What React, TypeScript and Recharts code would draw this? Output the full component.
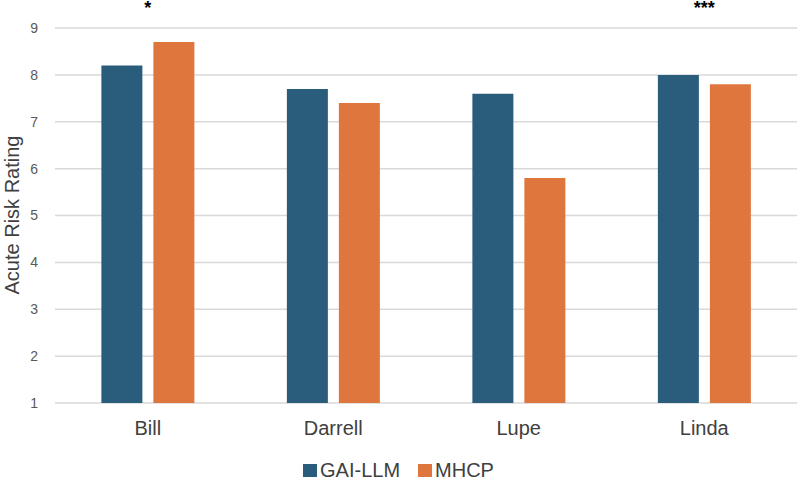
import { BarChart, Bar, XAxis, YAxis, CartesianGrid, Legend } from "recharts"

const names = ["Bill", "Darrell", "Lupe", "Linda"]
const gaiLlm = [8.2, 7.7, 7.6, 8.0]
const mhcp = [8.7, 7.4, 5.8, 7.8]
const sigMarks = ["*", "", "", "***"]
const yTicks = [1, 2, 3, 4, 5, 6, 7, 8, 9]
const seriesNames = ["GAI-LLM", "MHCP"]
const seriesColors = ["#2a5d7c", "#df763e"]

const data = names.map((name, i) => ({ name, gai: gaiLlm[i], mhcp: mhcp[i] }))

const FONT = "'Liberation Sans', Arial, sans-serif"

function LegendBox() {
  return (
    <div style={{ display: "flex", justifyContent: "center", alignItems: "center", height: 24, fontSize: 20, color: "#404040", fontFamily: FONT }}>
      {seriesNames.map((n, i) => (
        <span key={n} style={{ display: "flex", alignItems: "center", marginRight: i === 0 ? 18 : 0 }}>
          <span style={{ width: 14, height: 13, background: seriesColors[i], marginRight: 3, display: "inline-block" }} />
          {n}
        </span>
      ))}
    </div>
  )
}

function YLabel() {
  return (
    <text x={19} y={215} transform="rotate(-90 19 215)" textAnchor="middle"
      fontSize={20} fill="#404040" fontFamily={FONT}>Acute Risk Rating</text>
  )
}

// significance stars above each group
function SigTick(props: any) {
  const { x, y, index } = props
  return (
    <text x={x} y={y} dy={-8} textAnchor="middle" fontSize={18} fontWeight="bold" fill="#000" fontFamily={FONT}>
      {sigMarks[index]}
    </text>
  )
}

export default function App() {
  return (
    <div style={{ position: "absolute", left: 0, top: 0, width: 798, height: 482, fontFamily: FONT }}>
      <BarChart width={798} height={482} data={data} margin={{ top: 0, right: 1, left: 0, bottom: 0 }}
        barCategoryGap="25%" barGap={11}>
        <CartesianGrid vertical={false} stroke="#d9d9d9" strokeWidth={1.5} />
        <XAxis xAxisId="sig" orientation="top" dataKey="name" height={28} axisLine={false} tickLine={false}
          tickMargin={0} tick={<SigTick />} />
        <XAxis dataKey="name" axisLine={false} tickLine={false} tickMargin={12} height={55}
          tick={{ fontSize: 20, fill: "#404040", fontFamily: FONT }} />
        <YAxis domain={[1, 9]} ticks={yTicks} width={55} axisLine={false} tickLine={false} tickMargin={11}
          tick={{ fontSize: 14, fill: "#595959", fontFamily: FONT }}
          label={<YLabel />} />
        <Legend verticalAlign="bottom" height={24} content={<LegendBox />} />
        <Bar dataKey="gai" name={seriesNames[0]} fill={seriesColors[0]} isAnimationActive={false} />
        <Bar dataKey="mhcp" name={seriesNames[1]} fill={seriesColors[1]} isAnimationActive={false} />
      </BarChart>
    </div>
  )
}
